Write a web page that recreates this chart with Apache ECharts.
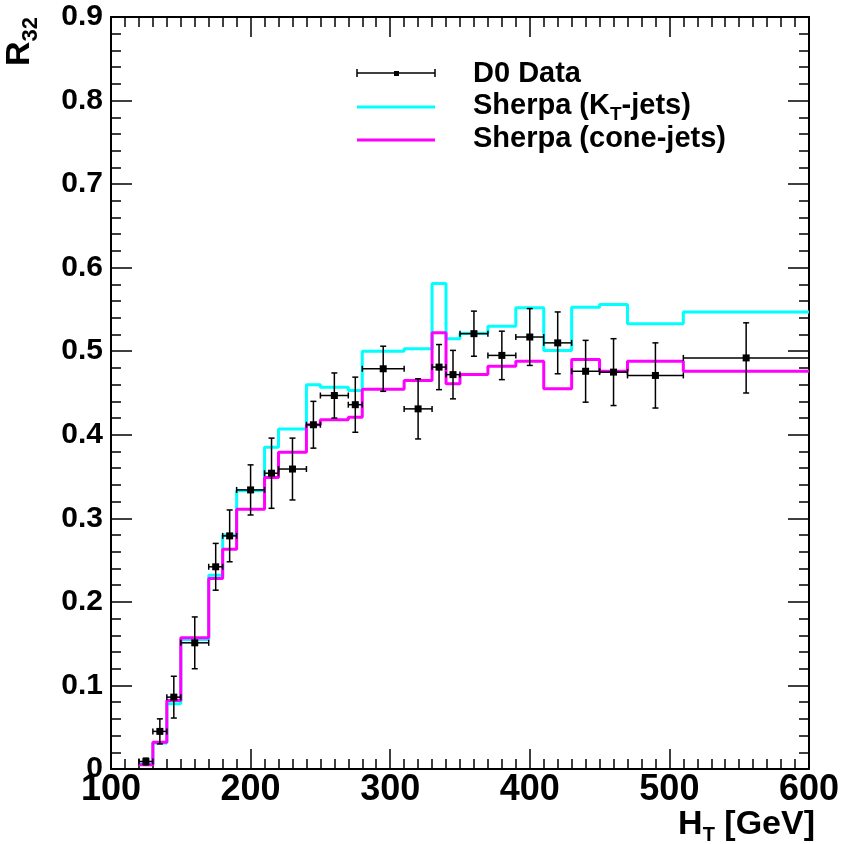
<!DOCTYPE html>
<html>
<head>
<meta charset="utf-8">
<script src="https://cdn.jsdelivr.net/npm/echarts@6/dist/echarts.min.js"></script>
<style>
html,body{margin:0;padding:0;background:#fff;}
#chart{width:842px;height:844px;}
</style>
</head>
<body>
<div id="chart"></div>
<script>
// Bin edges (H_T in GeV)
const binEdges = [120,130,140,150,170,180,190,210,220,240,250,270,280,310,330,340,350,370,390,410,430,450,470,510,600];
// Sherpa predictions per bin
const sherpaKt   = [0.006,0.031,0.078,0.155,0.232,0.280,0.333,0.385,0.407,0.460,0.457,0.453,0.500,0.503,0.581,0.515,0.5215,0.530,0.552,0.501,0.5525,0.556,0.533,0.547];
const sherpaCone = [0.005,0.032,0.082,0.157,0.228,0.263,0.311,0.349,0.379,0.412,0.418,0.421,0.4545,0.465,0.522,0.461,0.472,0.482,0.488,0.455,0.490,0.476,0.488,0.476];
// D0 data points
const d0X   = [125,135,145,160,175,185,200,215,230,245,260,275,295,320,335,345,360,380,400,420,440,460,490,555];
const d0Y   = [0.009,0.045,0.086,0.151,0.242,0.279,0.334,0.354,0.359,0.412,0.447,0.436,0.479,0.431,0.481,0.472,0.521,0.495,0.517,0.510,0.476,0.475,0.471,0.492];
const d0Err = [0.004,0.015,0.025,0.031,0.028,0.031,0.030,0.042,0.037,0.028,0.027,0.033,0.027,0.036,0.027,0.029,0.027,0.029,0.034,0.037,0.037,0.040,0.039,0.042];
// Axis ticks
const xTicks = [100,200,300,400,500,600];
const yTicks = [0,0.1,0.2,0.3,0.4,0.5,0.6,0.7,0.8,0.9];

function stepData(vals){
  const out = [];
  for (let i=0;i<vals.length;i++){
    out.push([binEdges[i], vals[i]]);
    out.push([binEdges[i+1], vals[i]]);
  }
  return out;
}
const d0Data = d0X.map((x,i)=>[x, d0Y[i], binEdges[i], binEdges[i+1], d0Err[i]]);

const FONT = '"Liberation Sans", Arial, Helvetica, sans-serif';
const tickStyle = {color:'#000', width:1.5};
function xAxisCfg(pos, labels){
  return {
    type:'value', position:pos, min:xTicks[0], max:xTicks[xTicks.length-1], interval:100,
    axisLine:{show:true, onZero:false, lineStyle:{color:'#000', width:2}},
    axisTick:{show:true, inside:true, length:20, lineStyle:tickStyle},
    minorTick:{show:true, splitNumber:10, length:10, lineStyle:tickStyle},
    splitLine:{show:false}, minorSplitLine:{show:false},
    axisLabel:{show:labels, color:'#000', fontFamily:FONT, fontWeight:'bold', fontSize:36, margin:3}
  };
}
function yAxisCfg(pos, labels){
  return {
    type:'value', position:pos, min:yTicks[0], max:yTicks[yTicks.length-1], interval:0.1,
    axisLine:{show:true, onZero:false, lineStyle:{color:'#000', width:2}},
    axisTick:{show:true, inside:true, length:21, lineStyle:tickStyle},
    minorTick:{show:true, splitNumber:5, length:10, lineStyle:tickStyle},
    splitLine:{show:false}, minorSplitLine:{show:false},
    axisLabel:{show:labels, color:'#000', fontFamily:FONT, fontWeight:'bold', fontSize:30, margin:8,
      formatter: v => (Math.abs(v)<1e-9 ? '0' : v.toFixed(1))}
  };
}

const chart = echarts.init(document.getElementById('chart'), null, {renderer:'canvas'});
const option = {
  animation:false,
  backgroundColor:'#fff',
  grid:{left:111, right:27, top:17, bottom:75, containLabel:false},
  xAxis:[xAxisCfg('bottom', true), xAxisCfg('top', false)],
  yAxis:[yAxisCfg('left', true), yAxisCfg('right', false)],
  series:[
    {type:'line', name:'Sherpa (KT-jets)', data:stepData(sherpaKt), showSymbol:false, symbol:'none',
     lineStyle:{color:'#00ffff', width:3}, z:2},
    {type:'line', name:'Sherpa (cone-jets)', data:stepData(sherpaCone), showSymbol:false, symbol:'none',
     lineStyle:{color:'#ff00ff', width:3}, z:3},
    {type:'custom', name:'D0 Data', data:d0Data, z:5,
     renderItem:function(params, api){
       const x=api.value(0), y=api.value(1), lo=api.value(2), hi=api.value(3), e=api.value(4);
       const p=api.coord([x,y]), pl=api.coord([lo,y]), ph=api.coord([hi,y]);
       const pt=api.coord([x,y+e]), pb=api.coord([x,y-e]);
       const st={stroke:'#000', lineWidth:1.5};
       const c=3, m=3.5;
       return {type:'group', children:[
         {type:'line', shape:{x1:pl[0],y1:pl[1],x2:ph[0],y2:ph[1]}, style:st},
         {type:'line', shape:{x1:pl[0],y1:pl[1]-c,x2:pl[0],y2:pl[1]+c}, style:st},
         {type:'line', shape:{x1:ph[0],y1:ph[1]-c,x2:ph[0],y2:ph[1]+c}, style:st},
         {type:'line', shape:{x1:pt[0],y1:pt[1],x2:pb[0],y2:pb[1]}, style:st},
         {type:'line', shape:{x1:pt[0]-c,y1:pt[1],x2:pt[0]+c,y2:pt[1]}, style:st},
         {type:'line', shape:{x1:pb[0]-c,y1:pb[1],x2:pb[0]+c,y2:pb[1]}, style:st},
         {type:'rect', shape:{x:p[0]-m,y:p[1]-m,width:2*m,height:2*m}, style:{fill:'#000'}}
       ]};
     }}
  ],
  graphic:[
    // Legend
    {type:'line', shape:{x1:357,y1:73,x2:435,y2:73}, style:{stroke:'#000', lineWidth:1.5}},
    {type:'line', shape:{x1:357,y1:69,x2:357,y2:77}, style:{stroke:'#000', lineWidth:1.5}},
    {type:'line', shape:{x1:435,y1:69,x2:435,y2:77}, style:{stroke:'#000', lineWidth:1.5}},
    {type:'rect', shape:{x:394,y:71,width:5,height:5}, style:{fill:'#000'}},
    {type:'line', shape:{x1:357,y1:107,x2:435,y2:107}, style:{stroke:'#00ffff', lineWidth:3}},
    {type:'line', shape:{x1:357,y1:140,x2:435,y2:140}, style:{stroke:'#ff00ff', lineWidth:3}},
    {type:'text', x:473, y:74, style:{text:'D0 Data', fill:'#000', font:'bold 29px '+FONT, verticalAlign:'middle', align:'left'}},
    {type:'text', x:473, y:106, style:{text:'{n|Sherpa (K}{s|T}{n|-jets)}', verticalAlign:'middle', align:'left',
      rich:{n:{fill:'#000', fontFamily:FONT, fontWeight:'bold', fontSize:29, lineHeight:36, verticalAlign:'middle'},
            s:{fill:'#000', fontFamily:FONT, fontWeight:'bold', fontSize:19, lineHeight:18, verticalAlign:'bottom'}}}},
    {type:'text', x:473, y:139, style:{text:'Sherpa (cone-jets)', fill:'#000', font:'bold 29px '+FONT, verticalAlign:'middle', align:'left'}},
    // X axis title
    {type:'text', x:815, y:825, style:{text:'{a|H}{b|T}{a| [GeV]}', align:'right', verticalAlign:'middle',
      rich:{a:{fill:'#000', fontFamily:FONT, fontWeight:'bold', fontSize:34, lineHeight:40, verticalAlign:'middle'},
            b:{fill:'#000', fontFamily:FONT, fontWeight:'bold', fontSize:20, lineHeight:20, verticalAlign:'bottom'}}}},
    // Y axis title
    {type:'text', x:19.5, y:17, rotation:Math.PI/2, style:{text:'{a|R}{b|32}', align:'right', verticalAlign:'middle',
      rich:{a:{fill:'#000', fontFamily:FONT, fontWeight:'bold', fontSize:34, lineHeight:44, verticalAlign:'middle'},
            b:{fill:'#000', fontFamily:FONT, fontWeight:'bold', fontSize:22, lineHeight:18, verticalAlign:'bottom'}}}}
  ]
};
chart.setOption(option);
</script>
</body>
</html>
